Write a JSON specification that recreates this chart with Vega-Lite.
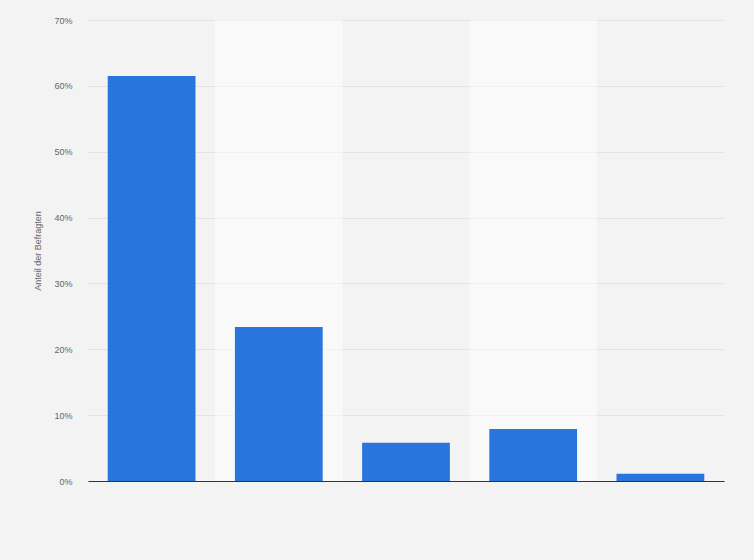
{
  "$schema": "https://vega.github.io/schema/vega-lite/v6.json",
  "width": 636,
  "height": 461,
  "autosize": "none",
  "padding": {"left": 88, "top": 20, "right": 30, "bottom": 79},
  "background": "#f3f3f3",
  "config": {
    "view": {"stroke": null},
    "font": "Liberation Sans",
    "axis": {"labelColor": "#666666", "titleColor": "#666666", "labelFontSize": 9, "titleFontSize": 9, "titleFontWeight": "normal"},
    "axisY": {
      "labelExpr": "datum.value + '%'",
      "ticks": false,
      "domain": false,
      "labelPadding": 16,
      "grid": true,
      "gridColor": "#d2d2d2",
      "gridDash": [1, 1],
      "titlePadding": 11
    }
  },
  "data": {
    "values": [
      {"cat": "1", "share": 61.5},
      {"cat": "2", "share": 23.4},
      {"cat": "3", "share": 5.8},
      {"cat": "4", "share": 7.9},
      {"cat": "5", "share": 1.1}
    ]
  },
  "encoding": {
    "x": {
      "field": "cat",
      "type": "nominal",
      "scale": {"paddingInner": 0, "paddingOuter": 0},
      "axis": {"labels": false, "ticks": false, "title": null, "domainColor": "#333333", "domainWidth": 1.2, "grid": false}
    }
  },
  "layer": [
    {
      "transform": [{"filter": "datum.cat == '2' || datum.cat == '4'"}],
      "mark": {"type": "rect", "color": "#ffffff", "opacity": 0.5},
      "encoding": {
        "y": {
          "datum": 70,
          "type": "quantitative",
          "scale": {"domain": [0, 70], "nice": false},
          "axis": {"values": [0, 10, 20, 30, 40, 50, 60, 70], "title": "Anteil der Befragten"}
        },
        "y2": {"datum": 0}
      }
    },
    {
      "mark": {"type": "bar", "color": "#2876dd", "width": {"band": 0.69}},
      "encoding": {
        "y": {
          "field": "share",
          "type": "quantitative",
          "scale": {"domain": [0, 70], "nice": false},
          "axis": {"values": [0, 10, 20, 30, 40, 50, 60, 70], "title": "Anteil der Befragten"}
        }
      }
    }
  ]
}
